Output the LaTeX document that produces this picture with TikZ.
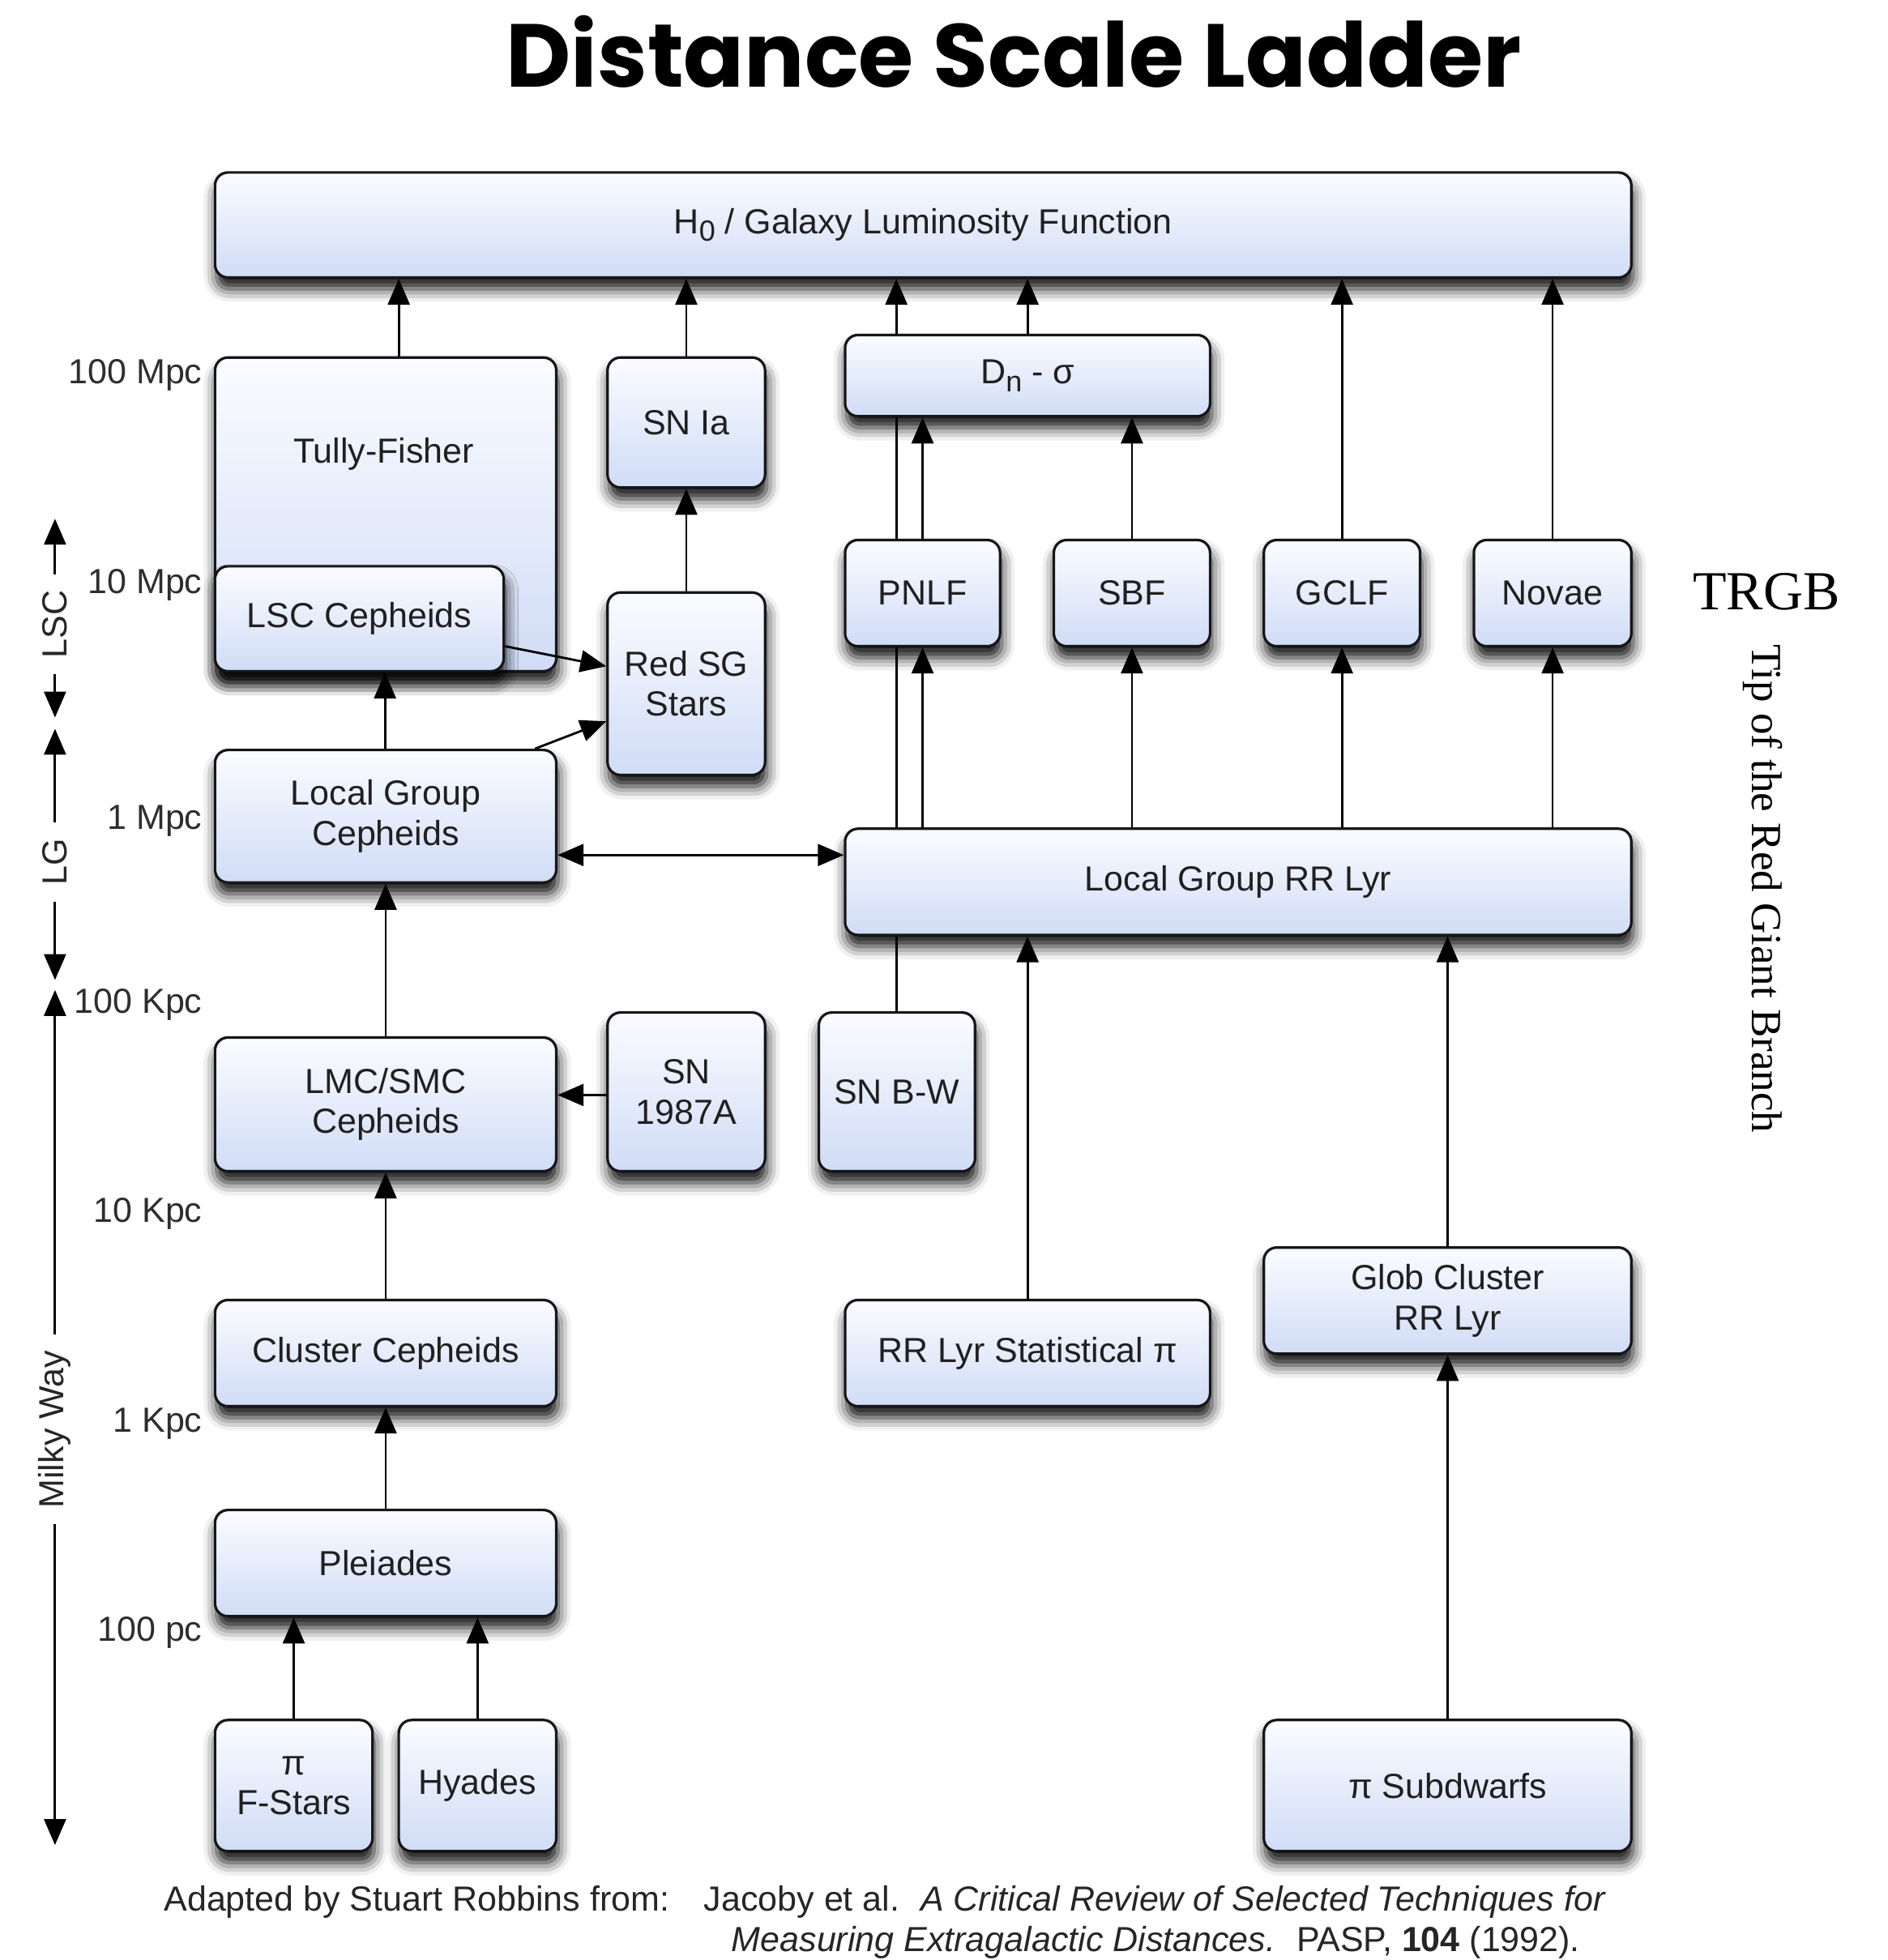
\documentclass[tikz,border=0pt]{standalone}
\usepackage{fontspec}
\setmainfont{Liberation Sans}
\newfontfamily\titlefont{Poppins}
\newfontfamily\serifx{Liberation Serif}
\usetikzlibrary{arrows.meta,shadows.blur,calc}

\definecolor{boxtop}{RGB}{251,252,255}
\definecolor{boxbot}{RGB}{208,220,246}
\definecolor{txt}{RGB}{32,32,32}
\definecolor{edge}{RGB}{22,22,26}

\newcommand\boxfont{\fontsize{21.5}{24.7}\selectfont}
\newcommand\lowsub[1]{\raisebox{-0.42ex}{\fontsize{18}{18}\selectfont #1}}
% box from corner (x1,y1) to corner (x2,y2), in picture units
\newcommand\bx[6]{\node[box, minimum width={(#4-#2)*0.7715pt}, minimum height={(#5-#3)*0.7715pt}] (#1) at ({(#2+#4)/2},{(#3+#5)/2}) {#6};}

\tikzset{
  box/.style={draw=edge, line width=1.6pt, rounded corners=8pt,
    top color=boxtop, bottom color=boxbot, inner sep=0pt,
    text=txt, align=center, font=\boxfont,
    blur shadow={shadow xshift=1pt, shadow yshift=-7pt,
      shadow blur radius=8pt, shadow opacity=95}},
  conn/.style={line width=1.4pt, draw=black,
    -{Triangle[length=16pt,width=13.5pt]}},
  dconn/.style={line width=1.4pt, draw=black,
    {Triangle[length=16pt,width=13.5pt]}-{Triangle[length=16pt,width=13.5pt]}},
  plain/.style={line width=1.4pt, draw=black},
  scalelbl/.style={anchor=east, text=black!82, font=\boxfont, inner sep=0pt},
  axisline/.style={line width=1.4pt, draw=black,
    {Triangle[length=16pt,width=13.5pt]}-{Triangle[length=16pt,width=13.5pt]}},
  axislbl/.style={fill=white, rotate=90, font=\boxfont, text=black!85,
    inner xsep=10pt, inner ysep=1pt},
  foot/.style={anchor=base west, font=\boxfont, text=black!85, inner sep=0pt}
}

\begin{document}
\begin{tikzpicture}[x=0.7715pt, y=-0.7715pt]
\useasboundingbox (0,0) rectangle (1510,1568);

% title
\node[anchor=base, inner sep=0pt, font={\titlefont\bfseries\fontsize{55.2}{60}\selectfont}] (title) at (811,70) {Distance Scale Ladder};

% boxes
\bx{h0}{172}{138}{1305}{222}{H\lowsub{0} / Galaxy Luminosity Function}
\bx{tf}{172}{286}{445}{537}{}
\node[font=\boxfont, text=txt, inner sep=0pt] (tftxt) at (307,363) {Tully-Fisher};
\bx{snia}{486}{286}{612}{390}{SN Ia}
\bx{dn}{676}{268}{968}{333}{D\lowsub{n} - σ}
\bx{lsc}{172}{453}{403}{537}{LSC Cepheids}
\bx{redsg}{486}{474}{612}{620}{Red SG\\Stars}
\bx{pnlf}{676}{432}{800}{517}{PNLF}
\bx{sbf}{843}{432}{968}{517}{SBF}
\bx{gclf}{1011}{432}{1136}{517}{GCLF}
\bx{novae}{1179}{432}{1305}{517}{Novae}
\bx{lgc}{172}{600}{445}{706}{Local Group\\Cepheids}
\bx{lgrr}{676}{663}{1305}{748}{Local Group RR Lyr}
\bx{lmc}{172}{830}{445}{937}{LMC/SMC\\Cepheids}
\bx{sn87}{486}{810}{612}{937}{SN\\1987A}
\bx{snbw}{655}{810}{780}{937}{SN B-W}
\bx{clc}{172}{1040}{445}{1125}{Cluster Cepheids}
\bx{rrstat}{676}{1040}{968}{1125}{RR Lyr Statistical π}
\bx{glob}{1011}{998}{1305}{1083}{Glob Cluster\\RR Lyr}
\bx{plei}{172}{1208}{445}{1293}{Pleiades}
\bx{fstars}{172}{1376}{298}{1481}{π\\F-Stars}
\bx{hyades}{319}{1376}{445}{1481}{Hyades}
\bx{subd}{1011}{1376}{1305}{1481}{π Subdwarfs}

% connectors into H0
\draw[conn] (319,0 |- tf.north) -- (319,0 |- h0.south);
\draw[conn] (snia.north) -- (snia.north |- h0.south);
\draw[plain] (717,0 |- snbw.north) -- (717,0 |- lgrr.south);
\draw[plain] (717,0 |- lgrr.north) -- (717,0 |- pnlf.south);
\draw[plain] (717,0 |- pnlf.north) -- (717,0 |- dn.south);
\draw[conn] (717,0 |- dn.north) -- (717,0 |- h0.south);
\draw[conn] (822,0 |- dn.north) -- (822,0 |- h0.south);
\draw[conn] (gclf.north) -- (gclf.north |- h0.south);
\draw[conn] (novae.north) -- (novae.north |- h0.south);

% middle connectors
\draw[conn] (redsg.north) -- (snia.south);
\draw[conn] (738,0 |- pnlf.north) -- (738,0 |- dn.south);
\draw[conn] (sbf.north) -- (sbf.north |- dn.south);
\draw[conn] (738,0 |- lgrr.north) -- (738,0 |- pnlf.south);
\draw[conn] (sbf.south |- lgrr.north) -- (sbf.south);
\draw[conn] (gclf.south |- lgrr.north) -- (gclf.south);
\draw[conn] (novae.south |- lgrr.north) -- (novae.south);
\draw[conn] (lsc.east |- 0,517) -- (redsg.west |- 0,533);
\draw[conn] (428,0 |- lgc.north) -- (redsg.west |- 0,577);
\draw[conn] (308,0 |- lgc.north) -- (308,0 |- lsc.south);
\draw[dconn] (lgc.east |- 0,684) -- (lgrr.west |- 0,684);
\draw[conn] (lmc.north) -- (lgc.south);
\draw[conn] (sn87.west |- 0,876) -- (lmc.east |- 0,876);
\draw[conn] (clc.north) -- (lmc.south);
\draw[conn] (plei.north) -- (clc.south);
\draw[conn] (fstars.north) -- (fstars.north |- plei.south);
\draw[conn] (hyades.north) -- (hyades.north |- plei.south);
\draw[conn] (rrstat.north) -- (rrstat.north |- lgrr.south);
\draw[conn] (glob.north) -- (glob.north |- lgrr.south);
\draw[conn] (subd.north) -- (glob.south);

% scale labels
\node[scalelbl] (s1) at (162,300) {100 Mpc};
\node[scalelbl] (s2) at (162,468) {10 Mpc};
\node[scalelbl] (s3) at (162,657) {1 Mpc};
\node[scalelbl] (s4) at (162,804) {100 Kpc};
\node[scalelbl] (s5) at (162,971) {10 Kpc};
\node[scalelbl] (s6) at (162,1139) {1 Kpc};
\node[scalelbl] (s7) at (162,1306) {100 pc};

% left axis
\coordinate (a1) at (44,415);
\coordinate (a2) at (44,574);
\coordinate (a3) at (44,583);
\coordinate (a4) at (44,784);
\coordinate (a5) at (44,792);
\coordinate (a6) at (44,1476);
\draw[axisline] (a1) -- node[axislbl, pos=0.531] (lsclbl) {LSC} (a2);
\draw[axisline] (a3) -- node[axislbl, pos=0.531] (lglbl) {LG} (a4);
\draw[axisline] (a5) -- node[axislbl, pos=0.514] (mwlbl) {Milky Way} (a6);

% TRGB
\node[anchor=base, inner sep=0pt, font={\serifx\fontsize{34}{34}\selectfont}] (trgb) at (1413,488) {TRGB};
\node[rotate=-90, inner sep=0pt, font={\serifx\fontsize{26.5}{26.5}\selectfont}] (tip) at (1410,711) {Tip of the Red Giant Branch};

% footer
\node[foot] (f1) at (131,1529) {Adapted by Stuart Robbins from:};
\node[foot] (f2) at (563,1529) {Jacoby et al.\hspace{0.6em}\textit{A Critical Review of Selected Techniques for}};
\node[foot] (f3) at (585,1561) {\textit{Measuring Extragalactic Distances.}\hspace{0.6em}PASP, \textbf{104} (1992).};
\end{tikzpicture}
\end{document}
